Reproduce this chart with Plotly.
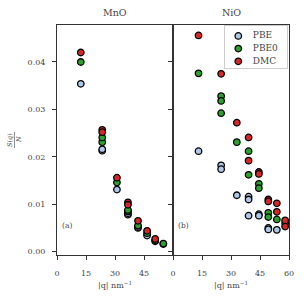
import plotly.graph_objects as go
from plotly.subplots import make_subplots

# ---- data ----
mno_pbe_q = [12.3, 23.4, 23.4, 31.0, 36.7, 36.7, 41.9, 41.9, 46.6, 50.8, 55.0]
mno_pbe_s = [0.0354, 0.0213, 0.0216, 0.0131, 0.0078, 0.0081, 0.0050, 0.0052, 0.0034, 0.0022, 0.0016]
mno_pbe0_q = [12.3, 23.4, 23.4, 31.0, 36.7, 36.7, 41.9, 46.6, 50.8, 55.0]
mno_pbe0_s = [0.0400, 0.0231, 0.0241, 0.0146, 0.0085, 0.0088, 0.0055, 0.0039, 0.0024, 0.0017]
mno_dmc_q = [12.3, 23.4, 23.4, 31.0, 36.7, 36.7, 41.9, 46.6, 50.8]
mno_dmc_s = [0.0420, 0.0257, 0.0252, 0.0156, 0.0104, 0.0099, 0.0065, 0.0044, 0.0027]

nio_pbe_q = [13.2, 24.9, 24.9, 33.0, 39.1, 39.1, 39.1, 44.4, 44.4, 49.3, 49.3, 53.7]
nio_pbe_s = [0.0212, 0.0182, 0.0174, 0.0119, 0.0116, 0.0110, 0.0076, 0.0079, 0.0076, 0.0050, 0.0047, 0.0046]
nio_pbe0_q = [13.2, 24.9, 24.9, 24.9, 33.0, 39.1, 39.1, 44.4, 44.4, 49.3, 49.3, 53.7, 58.0]
nio_pbe0_s = [0.0376, 0.0328, 0.0318, 0.0292, 0.0231, 0.0212, 0.0162, 0.0143, 0.0134, 0.0082, 0.0073, 0.0068, 0.0060]
nio_dmc_q = [13.2, 24.9, 33.0, 39.1, 39.1, 44.4, 44.4, 49.3, 49.3, 53.7, 53.7, 58.0, 58.0]
nio_dmc_s = [0.0456, 0.0375, 0.0272, 0.0241, 0.0192, 0.0168, 0.0164, 0.0110, 0.0106, 0.0102, 0.0084, 0.0066, 0.0053]

series_names = ["PBE", "PBE0", "DMC"]
series_colors = ["#aec7e8", "#2ca02c", "#d62728"]
x_ticks = [0, 15, 30, 45, 60]
y_ticks = [0.00, 0.01, 0.02, 0.03, 0.04]
y_tick_text = ["0.00", "0.01", "0.02", "0.03", "0.04"]
panel_titles = ["MnO", "NiO"]
x_title = "|q| nm<sup>−1</sup>"

FONT = "DejaVu Serif"
TXT = "#444444"
MARKER_SIZE = 6.5
MARKER_LINE = 1.3

fig = make_subplots(rows=1, cols=2, horizontal_spacing=0, shared_yaxes=True)

mno = [(mno_pbe_q, mno_pbe_s), (mno_pbe0_q, mno_pbe0_s), (mno_dmc_q, mno_dmc_s)]
nio = [(nio_pbe_q, nio_pbe_s), (nio_pbe0_q, nio_pbe0_s), (nio_dmc_q, nio_dmc_s)]

for col, data in ((1, mno), (2, nio)):
    for (q, s), name, color in zip(data, series_names, series_colors):
        fig.add_trace(go.Scatter(
            x=q, y=s, mode="markers", name=name, showlegend=False,
            marker=dict(size=MARKER_SIZE, color=color, line=dict(color="black", width=MARKER_LINE)),
            cliponaxis=True,
        ), row=1, col=col)

axis_common = dict(showgrid=False, zeroline=False, showline=True, mirror=True,
                   linecolor="#333333", linewidth=1, ticks="outside", ticklen=4,
                   tickcolor="#333333", tickfont=dict(family=FONT, size=8, color=TXT),
                   automargin=False)

fig.update_xaxes(range=[0, 60], tickvals=x_ticks, ticklabelstandoff=6, **axis_common)
fig.update_xaxes(ticktext=["0", "15", "30", "45", ""], row=1, col=1)
fig.update_xaxes(ticktext=[str(t) for t in x_ticks], row=1, col=2)
fig.update_yaxes(range=[-0.0007, 0.0478], tickvals=y_ticks, ticktext=y_tick_text,
                 ticklabelstandoff=5, **axis_common)
fig.update_yaxes(showticklabels=False, row=1, col=2)

# ---- legend drawn as a small overlay axis, entries placed by index ----
legend_idx = list(range(len(series_names)))
fig.update_layout(
    xaxis3=dict(domain=[0.724, 0.991], range=[0, 1], anchor="y3", visible=True,
                showline=True, mirror=True, linecolor="#cccccc", linewidth=1,
                showticklabels=False, ticks="", showgrid=False, zeroline=False, fixedrange=True),
    yaxis3=dict(domain=[0.813, 0.996], range=[2.53, -0.79], anchor="x3",
                showline=True, mirror=True, linecolor="#cccccc", linewidth=1,
                showticklabels=False, ticks="", showgrid=False, zeroline=False, fixedrange=True),
)
fig.add_trace(go.Scatter(
    x=[0.215] * len(series_names), y=legend_idx, xaxis="x3", yaxis="y3", mode="markers",
    marker=dict(size=MARKER_SIZE, color=series_colors, line=dict(color="black", width=MARKER_LINE)),
    showlegend=False, hoverinfo="skip"))
fig.add_trace(go.Scatter(
    x=[0.45] * len(series_names), y=legend_idx, xaxis="x3", yaxis="y3", mode="text",
    text=series_names, textposition="middle right",
    textfont=dict(family=FONT, size=9, color=TXT), showlegend=False, hoverinfo="skip"))

annotations = []
for xc, t in ((0.25, panel_titles[0]), (0.75, panel_titles[1])):
    annotations.append(dict(x=xc, y=1.0, xref="paper", yref="paper", yshift=5,
                            text=t, showarrow=False, xanchor="center", yanchor="bottom",
                            font=dict(family=FONT, size=9.5, color=TXT)))
    annotations.append(dict(x=xc, y=(255 - 285) / 230, xref="paper", yref="paper",
                            text=x_title, showarrow=False, xanchor="center", yanchor="middle",
                            font=dict(family=FONT, size=8, color=TXT)))
annotations.append(dict(x=1.3, y=0.0055, xref="x", yref="y", text="(a)", showarrow=False,
                        xanchor="left", yanchor="middle", font=dict(family=FONT, size=7.5, color=TXT)))
annotations.append(dict(x=1.3, y=0.0055, xref="x2", yref="y", text="(b)", showarrow=False,
                        xanchor="left", yanchor="middle", font=dict(family=FONT, size=7.5, color=TXT)))
# y-axis label as a rotated fraction S(q)/N
W = 232.0
annotations.append(dict(x=(10 - 57) / W, y=0.5, xref="paper", yref="paper", text="<i>S</i>(<i>q</i>)",
                        textangle=-90, showarrow=False, xanchor="center", yanchor="middle",
                        font=dict(family=FONT, size=6.5, color=TXT)))
annotations.append(dict(x=(19 - 57) / W, y=0.5, xref="paper", yref="paper", text="<i>N</i>",
                        textangle=-90, showarrow=False, xanchor="center", yanchor="middle",
                        font=dict(family=FONT, size=6.5, color=TXT)))

shapes = [dict(type="line", xref="paper", yref="paper", x0=(14.5 - 57) / W, x1=(14.5 - 57) / W,
               y0=0.5 - 8 / 230, y1=0.5 + 8 / 230, line=dict(color=TXT, width=0.6))]

fig.update_layout(
    width=305, height=299,
    margin=dict(l=57, r=16, t=25, b=44),
    paper_bgcolor="white", plot_bgcolor="white",
    font=dict(family=FONT, size=8, color=TXT),
    annotations=annotations, shapes=shapes,
    showlegend=False,
)

fig.write_html("out.html", config={"displayModeBar": False},
               post_script="document.body.style.margin='0';document.body.style.padding='0';")
